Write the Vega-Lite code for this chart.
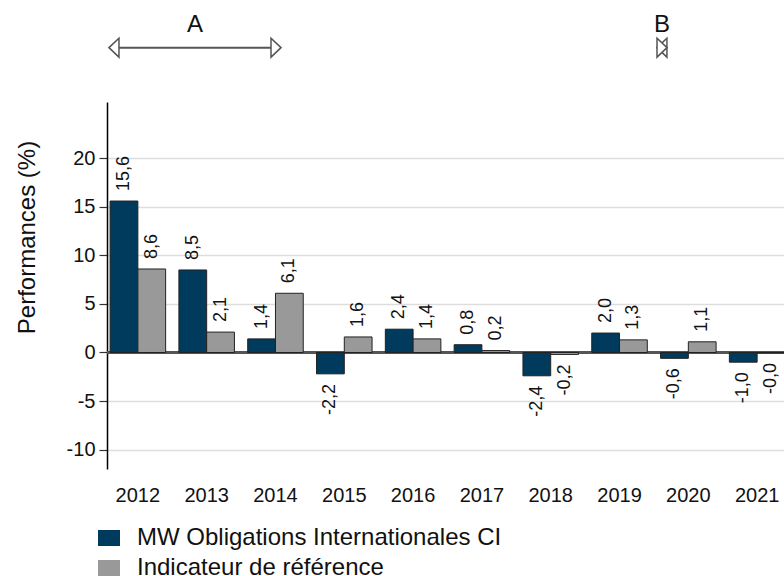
{
  "$schema": "https://vega.github.io/schema/vega-lite/v6.json",
  "autosize": "none",
  "padding": {"left": 107, "top": 102, "right": 0, "bottom": 107},
  "width": 681,
  "height": 367,
  "config": {
    "font": "Liberation Sans",
    "view": {"stroke": null},
    "axis": {"labelFont": "Liberation Sans", "titleFont": "Liberation Sans"}
  },
  "datasets": {
    "perf": [
      {"year": "2012", "series": "MW Obligations Internationales CI", "value": 15.6, "label": "15,6"},
      {"year": "2012", "series": "Indicateur de référence", "value": 8.6, "label": "8,6"},
      {"year": "2013", "series": "MW Obligations Internationales CI", "value": 8.5, "label": "8,5"},
      {"year": "2013", "series": "Indicateur de référence", "value": 2.1, "label": "2,1"},
      {"year": "2014", "series": "MW Obligations Internationales CI", "value": 1.4, "label": "1,4"},
      {"year": "2014", "series": "Indicateur de référence", "value": 6.1, "label": "6,1"},
      {"year": "2015", "series": "MW Obligations Internationales CI", "value": -2.2, "label": "-2,2"},
      {"year": "2015", "series": "Indicateur de référence", "value": 1.6, "label": "1,6"},
      {"year": "2016", "series": "MW Obligations Internationales CI", "value": 2.4, "label": "2,4"},
      {"year": "2016", "series": "Indicateur de référence", "value": 1.4, "label": "1,4"},
      {"year": "2017", "series": "MW Obligations Internationales CI", "value": 0.8, "label": "0,8"},
      {"year": "2017", "series": "Indicateur de référence", "value": 0.2, "label": "0,2"},
      {"year": "2018", "series": "MW Obligations Internationales CI", "value": -2.4, "label": "-2,4"},
      {"year": "2018", "series": "Indicateur de référence", "value": -0.2, "label": "-0,2"},
      {"year": "2019", "series": "MW Obligations Internationales CI", "value": 2.0, "label": "2,0"},
      {"year": "2019", "series": "Indicateur de référence", "value": 1.3, "label": "1,3"},
      {"year": "2020", "series": "MW Obligations Internationales CI", "value": -0.6, "label": "-0,6"},
      {"year": "2020", "series": "Indicateur de référence", "value": 1.1, "label": "1,1"},
      {"year": "2021", "series": "MW Obligations Internationales CI", "value": -1.0, "label": "-1,0"},
      {"year": "2021", "series": "Indicateur de référence", "value": -0.04, "label": "-0,0"}
    ],
    "periods": [
      {"name": "A", "start": 2011.985, "end": 2014.485, "mid": 2013.235},
      {"name": "B", "start": 2019.95, "end": 2020.096, "mid": 2020.023}
    ]
  },
  "layer": [
    {
      "data": {"name": "perf"},
      "layer": [
        {
          "mark": {"type": "rule", "color": "#555555", "strokeWidth": 2},
          "encoding": {
            "y": {"datum": 0, "type": "quantitative", "scale": {"domain": [-12, 25.8], "nice": false, "zero": false}}
          }
        },
        {
          "mark": {"type": "bar", "stroke": "#222222", "strokeWidth": 1},
          "encoding": {
            "x": {
              "field": "year", "type": "nominal",
              "scale": {"paddingInner": 0.193, "paddingOuter": 0.045},
              "axis": {"title": null, "domain": false, "ticks": false, "labelAngle": 0, "labelFontSize": 20, "labelColor": "#111111", "labelPadding": 16, "grid": false}
            },
            "xOffset": {"field": "series", "type": "nominal", "sort": ["MW Obligations Internationales CI", "Indicateur de référence"], "scale": {"paddingInner": 0, "paddingOuter": 0}},
            "y": {
              "field": "value", "type": "quantitative",
              "scale": {"domain": [-12, 25.8], "nice": false, "zero": false},
              "axis": {
                "title": "Performances (%)", "titleFontSize": 24, "titleFontWeight": "normal", "titleColor": "#111111",
                "titleAngle": -90, "titleX": -80, "titleY": 135, "titleAlign": "center", "titleBaseline": "middle",
                "values": [-10, -5, 0, 5, 10, 15, 20],
                "labelExpr": "replace(datum.label, '\u2212', '-')",
                "labelFontSize": 20, "labelColor": "#111111", "labelPadding": 4,
                "tickSize": 8, "tickColor": "#333333", "tickWidth": 1.2,
                "domainColor": "#000000", "domainWidth": 1.5,
                "grid": true, "gridColor": "#dddddd", "gridWidth": 1.5
              }
            },
            "color": {
              "field": "series", "type": "nominal",
              "scale": {"domain": ["MW Obligations Internationales CI", "Indicateur de référence"], "range": ["#003a5c", "#999999"]},
              "legend": {
                "title": null, "orient": "none", "legendX": -10, "legendY": 424, "direction": "vertical",
                "padding": 0, "labelFontSize": 24, "labelColor": "#111111", "labelOffset": 16, "labelLimit": 0,
                "symbolType": "M-1,-0.727H1V0.727H-1Z", "symbolSize": 484, "symbolStrokeWidth": 0, "symbolOpacity": 1,
                "rowPadding": 6
              }
            }
          }
        },
        {
          "transform": [{"filter": "datum.value >= 0"}],
          "mark": {"type": "text", "angle": 270, "align": "left", "baseline": "middle", "dx": 10, "fontSize": 18, "color": "#111111"},
          "encoding": {
            "x": {"field": "year", "type": "nominal"},
            "xOffset": {"field": "series", "type": "nominal", "sort": ["MW Obligations Internationales CI", "Indicateur de référence"]},
            "y": {"field": "value", "type": "quantitative"},
            "text": {"field": "label"}
          }
        },
        {
          "transform": [{"filter": "datum.value < 0"}],
          "mark": {"type": "text", "angle": 270, "align": "right", "baseline": "middle", "dx": -10, "fontSize": 18, "color": "#111111"},
          "encoding": {
            "x": {"field": "year", "type": "nominal"},
            "xOffset": {"field": "series", "type": "nominal", "sort": ["MW Obligations Internationales CI", "Indicateur de référence"]},
            "y": {"field": "value", "type": "quantitative"},
            "text": {"field": "label"}
          }
        }
      ]
    },
    {
      "data": {"name": "periods"},
      "layer": [
        {
          "mark": {"type": "rule", "color": "#555555", "strokeWidth": 2},
          "encoding": {
            "x": {"field": "start", "type": "quantitative", "scale": {"domain": [2011.956, 2021.855], "nice": false, "zero": false}, "axis": null},
            "x2": {"field": "end"},
            "y": {"datum": 31.4, "type": "quantitative"}
          }
        },
        {
          "mark": {"type": "point", "shape": "M0,0L1.05,-1L1.05,1Z", "size": 361, "filled": true, "fill": "#ffffff", "stroke": "#555555", "strokeWidth": 1.5, "opacity": 1},
          "encoding": {
            "x": {"field": "start", "type": "quantitative"},
            "y": {"datum": 31.4, "type": "quantitative"}
          }
        },
        {
          "mark": {"type": "point", "shape": "M0,0L-1.05,-1L-1.05,1Z", "size": 361, "filled": true, "fill": "#ffffff", "stroke": "#555555", "strokeWidth": 1.5, "opacity": 1},
          "encoding": {
            "x": {"field": "end", "type": "quantitative"},
            "y": {"datum": 31.4, "type": "quantitative"}
          }
        },
        {
          "mark": {"type": "text", "fontSize": 24, "color": "#111111", "baseline": "alphabetic", "align": "center"},
          "encoding": {
            "x": {"field": "mid", "type": "quantitative"},
            "y": {"datum": 33.0, "type": "quantitative"},
            "text": {"field": "name"}
          }
        }
      ]
    }
  ],
  "resolve": {"scale": {"x": "independent"}}
}
